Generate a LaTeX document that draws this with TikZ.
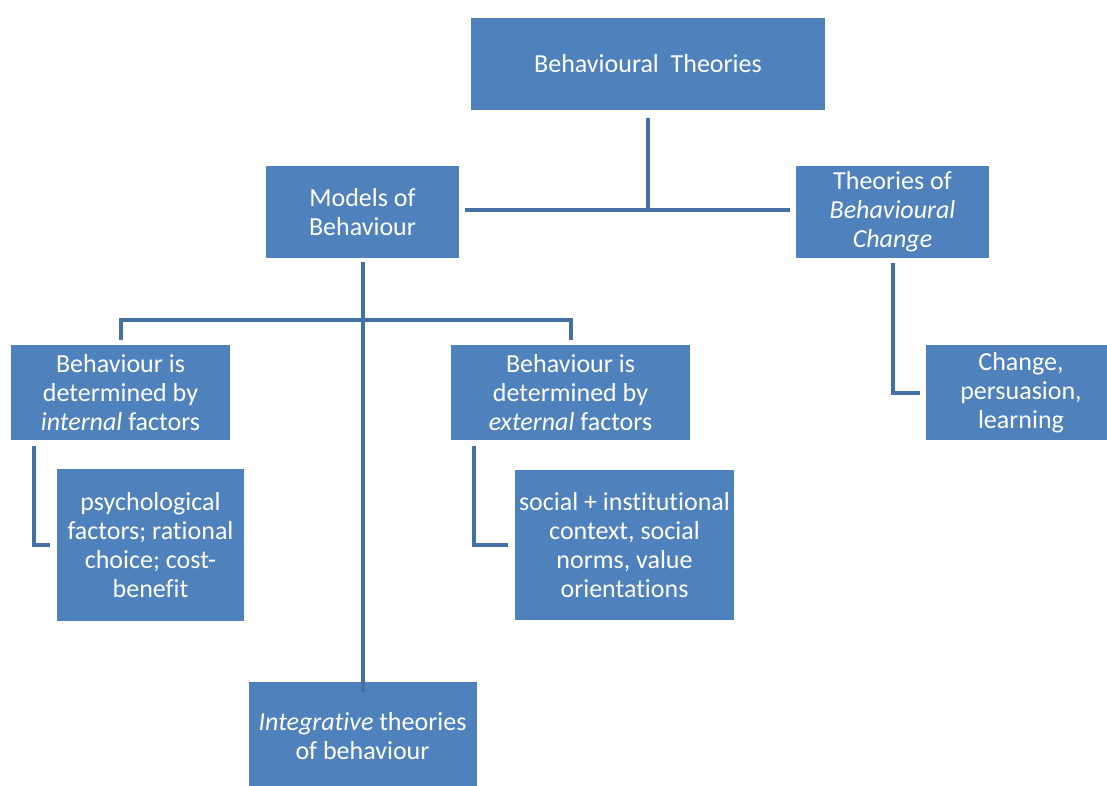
\documentclass[tikz,border=0pt]{standalone}
\usepackage{fontspec}
\setmainfont[Ligatures=NoCommon]{Carlito}
\usetikzlibrary{calc}
\definecolor{boxblue}{HTML}{4F81BD}
\definecolor{lineblue}{HTML}{4570A6}
\begin{document}
\begin{tikzpicture}[x=1pt,y=-1pt,
  box/.style={fill=boxblue,draw=none,text=white,align=center,inner sep=0pt,
    font=\fontsize{26}{29}\selectfont},
  conn/.style={draw=lineblue,line width=4pt,line join=miter}]
\useasboundingbox[fill=white] (0,0) rectangle (1107,785);
\node[box,minimum width=354pt,minimum height=92pt] (bt) at (648,64) {Behavioural~ Theories};
\node[box,minimum width=193pt,minimum height=92pt] (mb) at (362.5,212) {Models of\\Behaviour};
\node[box,minimum width=193pt,minimum height=92pt] (tc) at (892.5,212) {Theories of\\\itshape Behavioural\\\itshape Change};
\node[box,minimum width=219pt,minimum height=95pt] (int) at (120.5,392.5) {Behaviour is\\determined by\\\textit{internal} factors};
\node[box,minimum width=239pt,minimum height=95pt] (ext) at (570.5,392.5) {Behaviour is\\determined by\\\textit{external} factors};
\node[box,minimum width=190pt,minimum height=95pt] (ch) at (1021,392.5) {Change,\\persuasion,\\learning};
\node[box,minimum width=187pt,minimum height=152pt] (psy) at (150.5,545) {psychological\\factors; rational\\choice; cost-\\benefit};
\node[box,minimum width=219pt,minimum height=150pt] (soc) at (624.5,545) {social + institutional\\context, social\\norms, value\\orientations};
\node[box,minimum width=228pt,minimum height=108pt] (ig) at (362.5,736) {\textit{Integrative} theories\\of behaviour};
\coordinate (j1) at (648,210);
\coordinate (h) at (362.5,320);
\draw[conn] ([yshift=-8pt]bt.south) -- (j1);
\draw[conn] ([xshift=6pt]mb.east |- j1) -- ([xshift=-6pt]tc.west |- j1);
\draw[conn] ([yshift=-4pt]mb.south) -- ([yshift=-10pt]ig.north);
\draw[conn] ([yshift=5pt]int.north) |- (h) -| ([yshift=5pt]ext.north);
\draw[conn] ([xshift=-87pt,yshift=-6pt]int.south) |- ([xshift=-7pt]psy.west);
\draw[conn] ([xshift=-96.5pt,yshift=-6pt]ext.south) |- ([xshift=-7pt]soc.west);
\draw[conn] ([yshift=-5pt]tc.south) |- ([xshift=-6pt]ch.west);
\end{tikzpicture}
\end{document}
